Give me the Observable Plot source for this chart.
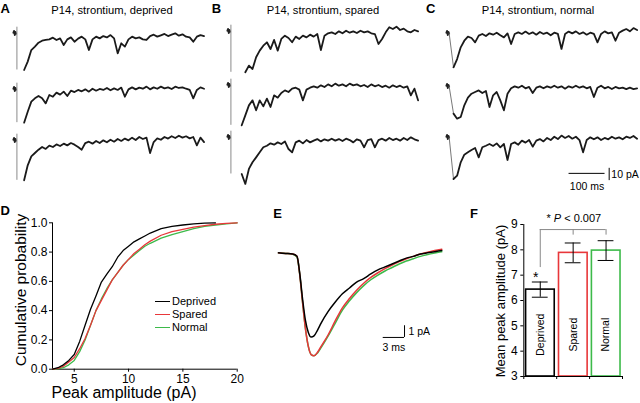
<!DOCTYPE html>
<html><head><meta charset="utf-8">
<script src="https://cdn.jsdelivr.net/npm/d3@7"></script>
<script src="https://cdn.jsdelivr.net/npm/@observablehq/plot@0.6"></script>
<style>
html,body{margin:0;padding:0;background:#fff;}
#fig{position:relative;width:640px;height:403px;overflow:hidden;background:#fff;font-family:"Liberation Sans",Arial,Helvetica,sans-serif;color:#000;}
#fig svg{position:absolute;overflow:visible;}
.legend{position:absolute;font-size:11px;line-height:12.8px;}
.legend div{display:flex;align-items:center;height:12.8px;}
.legend span.sw{display:inline-block;width:15px;height:0;border-top:1.6px solid;margin-right:2px;}
</style></head><body><div id="fig"></div><script>
// ---------------- DATA ----------------
const STEP = 10;                       // ms between trace samples
const preT = [-10, -8, -6, -4, -2];    // ms, pre-stimulus samples
const preBlob = [0.5, 2.0, -1.5, 1.2, -0.3];
const artifactTop = 5;                 // pA

// Panel A (deprived) sweeps, pA, sampled every 10 ms
const A1 = [-29.8,-23.0,-13.6,-10.8,-7.6,-6.0,-5.4,-4.9,-3.5,-5.4,-4.1,-9.5,-4.9,-3.3,-6.8,-4.3,-2.7,-4.9,-13.6,-4.9,-2.7,-4.1,-2.2,-3.3,-1.4,-4.1,-16.3,-8.1,-10.8,-4.9,-2.7,-4.1,-3.3,-4.9,-5.4,-2.2,-1.1,-2.7,-1.6,-0.5,-2.2,-1.1,0,-1.9,-0.8,-2.7,-3.3,-6.8,-2.7,-1.4,-2.2];
const A2 = [-27.1,-18.2,-10.0,-7.3,-5.4,-7.3,-11.4,-4.6,-6.0,-2.7,-4.3,-1.9,-5.4,-1.1,-2.2,-0.5,-1.6,0,-1.9,0.5,-1.1,0.3,-0.5,1.1,-0.8,0.8,-0.5,1.4,-6.0,0,1.6,0,1.4,0.5,2.2,0,1.6,0.5,2.2,0.8,1.6,0.3,2.2,1.1,1.6,0.5,-0.5,-7.3,-0.5,1.6,0.5];
const A3 = [-32.5,-20.3,-13.0,-10.3,-7.6,-5.4,-7.0,-4.3,-5.4,-3.3,-4.6,-2.7,-4.1,-2.2,-3.5,-5.4,-7.6,-2.2,-1.1,-2.7,-0.5,-2.2,0,-1.6,0.5,-1.1,1.1,-0.5,1.4,0,2.2,0.3,2.7,1.1,2.2,-10.3,-1.4,1.6,0.5,2.7,1.4,3.3,1.9,3.8,2.2,3.3,1.6,2.7,-4.1,2.2,-1.4];
const startA = [20, 20, 20];
// Panel B (spared)
const B1 = [-33.3,-27.9,-30.6,-21.1,-15.7,-11.7,-8.9,-14.4,-7.0,-15.7,-6.2,-3.5,-5.4,-8.9,-4.3,-6.2,-3.5,-4.9,-2.7,-4.3,-2.2,-15.2,-3.5,-1.6,-0.8,-2.2,0,-1.6,0.5,-1.1,0,-1.4,0.5,-0.8,0,-1.6,-2.2,-10.3,-6.2,-0.8,3.3,1.9,3.8,1.1,2.2,0,-0.8,1.1,0];
const B2 = [-32.5,-24.4,-16.3,-12.2,-20.3,-12.2,-17.1,-10.8,-17.6,-8.1,-10.0,-6.2,-4.1,-5.4,-2.7,-1.9,-3.5,-12.2,-3.5,-1.9,-0.8,-1.9,0,-1.4,0.8,-0.8,1.4,-0.3,0.8,-0.8,1.4,0,0.8,-0.8,0.3,-1.4,0.8,-0.8,0.3,-1.4,-0.3,-1.9,0,-1.4,-0.3,-1.9,-0.8,-8.1,-2.7,-12.2];
const B3 = [-29.8,-37.9,-25.7,-20.3,-16.3,-12.2,-8.1,-6.8,-4.9,-6.0,-4.1,-5.4,-3.3,-9.5,-12.2,-4.1,-2.7,-4.9,-2.2,-4.1,-2.7,-1.4,-3.3,-1.6,-2.7,-1.1,-2.7,-1.4,-3.0,-1.1,-2.2,-4.1,-1.6,-2.7,-8.1,-2.2,-1.4,-8.1,-2.2,-1.1,-2.7,-0.5,-2.2,-1.1,-2.7,-0.5,-2.2,0,-1.6,-2.7];
const startB = [40, 30, 30];
// Panel C (normal)
const C1 = [-27.6,-20.9,-11.4,-6.0,-2.7,-3.8,-7.3,-1.9,-0.5,-2.2,0,-1.1,0.5,-1.6,-3.3,0,-8.7,-0.5,0.8,-0.5,1.4,-0.5,0.8,-1.1,1.1,-0.5,0.5,-1.6,0.5,-0.5,-12.7,-0.5,1.4,0,1.6,-0.5,0.8,-1.1,0.5,-0.5,-7.3,-0.5,1.6,0,0.8,-6.0,0.5,2.2,3.5,1.6,4.3,2.7];
const C2 = [-22.2,-26.3,-24.9,-15.4,-9.2,-6.0,-4.6,-3.3,-5.4,-3.8,-16.8,-7.3,-4.6,-11.4,-19.5,-6.0,-1.6,0,-1.1,0.5,-1.6,-0.5,-5.4,-1.1,0,-1.6,0,-1.1,0.5,-1.1,0,-1.9,0,-1.1,0.5,-1.1,0,-1.6,-0.5,-8.7,-1.1,0.5,-1.6,-0.5,-2.2,-0.5,-1.6,-1.1,-2.2,-1.1,-2.2,-1.6];
const C3 = [-33.9,-31.2,-20.3,-14.1,-12.2,-10.3,-8.7,-16.3,-8.1,-6.8,-5.4,-7.0,-4.9,-8.1,-5.4,-18.4,-5.4,-4.1,-6.0,-2.7,-4.3,-2.2,-7.6,-2.7,-1.4,-3.3,-0.5,-2.2,0.5,-1.4,1.4,-0.5,1.1,-1.1,0.5,-2.2,-12.2,-2.2,0,-1.6,0,-2.2,-0.5,-1.6,0.5,-1.1,0,-1.6,0.5,-0.5,1.1,-1.1];
const startC = [10, 10, 10];
const scaleBarC = {ms: 100, pA: 10};
const panelTitles = ["P14, strontium, deprived", "P14, strontium, spared", "P14, strontium, normal"];

// Panel D: cumulative distributions
const groups = ["Deprived", "Spared", "Normal"];
const groupColors = ["#000000", "#e8373a", "#3dba4a"];
const cdfAmp = [3.0,3.5,4.0,4.5,5.0,5.5,6.0,6.5,7.0,7.5,8.0,8.5,9.0,9.5,10.0,10.5,11.0,11.5,12.0,13,14,15,16,17,18,19,20];
const cdfDeprived = [0,0.01,0.03,0.06,0.10,0.19,0.30,0.41,0.50,0.595,0.65,0.70,0.765,0.81,0.84,0.87,0.89,0.91,0.93,0.96,0.975,0.985,0.993,0.998,1.0];
const cdfSpared = [0,0.005,0.02,0.05,0.08,0.14,0.21,0.30,0.40,0.47,0.54,0.61,0.66,0.71,0.75,0.79,0.82,0.85,0.875,0.915,0.94,0.955,0.97,0.98,0.99,0.996,1.0];
const cdfNormal = [0,0.003,0.01,0.03,0.06,0.12,0.20,0.30,0.40,0.48,0.55,0.61,0.66,0.71,0.75,0.78,0.81,0.84,0.86,0.895,0.92,0.94,0.96,0.975,0.985,0.993,1.0];
const cdfTicksX = [5, 10, 15, 20];
const cdfTicksY = [0, 0.2, 0.4, 0.6, 0.8, 1.0];
const dTitles = {x: "Peak amplitude (pA)", y: "Cumulative probability"};

// Panel E: average events
const eTime = [0,1,2,2.6,3.0,3.4,3.8,4.2,4.6,5.0,5.5,6,7,8,9,10,11,12,13,14,15,16,17,18,19,20,21,22,23];
const eDeprived = [0,-0.05,-0.1,-0.3,-1.8,-4.0,-5.8,-6.8,-7.2,-7.1,-6.6,-6.0,-5.0,-4.2,-3.5,-3.0,-2.5,-2.2,-1.8,-1.45,-1.2,-0.95,-0.7,-0.45,-0.3,-0.1,0.0,0.1,0.2];
const eSpared = [0,-0.05,-0.1,-0.3,-1.9,-4.3,-6.5,-8.0,-8.7,-8.8,-8.5,-8.0,-7.0,-5.8,-4.7,-3.9,-3.2,-2.6,-2.1,-1.7,-1.35,-1.05,-0.75,-0.5,-0.3,-0.1,0.05,0.2,0.3];
const eNormal = [0,-0.05,-0.12,-0.35,-1.9,-4.3,-6.5,-8.0,-8.7,-8.8,-8.55,-8.1,-7.1,-6.0,-4.9,-4.1,-3.4,-2.8,-2.3,-1.9,-1.55,-1.25,-0.95,-0.7,-0.5,-0.3,-0.15,-0.02,0.1];
const scaleBarE = {ms: 3, pA: 1};

// Panel F: mean peak amplitude
const fMeans = [6.43, 7.88, 7.97];
const fSem = [0.30, 0.39, 0.39];
const fTicksY = [3, 4, 5, 6, 7, 8, 9];
const fTitle = "Mean peak amplitude (pA)";
const sigLabel = "* P < 0.007";

// ---------------- DRAW ----------------
const FONT = '"Liberation Sans", Arial, Helvetica, sans-serif';
const fig = document.getElementById("fig");
const baseStyle = {background: "transparent", overflow: "visible", fontFamily: FONT, color: "#000"};
function put(el, left, top) { el.style.left = left + "px"; el.style.top = top + "px"; fig.appendChild(el); return el; }

// --- sweeps (A, B, C) ---
const PXMS = 0.36, PXPA = 1.23;
const T_DOM = [-15, 525], V_DOM = [-42, 8];
const SW = (T_DOM[1] - T_DOM[0]) * PXMS, SH = (V_DOM[1] - V_DOM[0]) * PXPA;

function sweep(values, t0, artifact, extra = []) {
  const pts = values.map((v, i) => ({t: t0 + i * STEP, v}));
  const pre = preT.map((t, i) => ({t, v: preBlob[i]}));
  const marks = [
    Plot.line(pre, {x: "t", y: "v", stroke: "#222", strokeWidth: 1.8}),
    artifact
      ? Plot.ruleX([0], {y1: artifactTop, y2: values[0], stroke: "#8a8a8a", strokeWidth: 1})
      : Plot.line([pre[pre.length - 1], pts[0]], {x: "t", y: "v", stroke: "#777", strokeWidth: 1}),
    Plot.line(pts, {x: "t", y: "v", stroke: "#1a1a1a", strokeWidth: 1.8}),
    ...extra
  ];
  return Plot.plot({width: SW, height: SH, margin: 0, style: baseStyle,
    x: {domain: T_DOM, axis: null}, y: {domain: V_DOM, axis: null}, marks});
}
const panels = [
  {stimX: 16.7, base: [33.3, 89.3, 140], traces: [A1, A2, A3], starts: startA, artifact: true},
  {stimX: 230.7, base: [30.7, 85, 136.7], traces: [B1, B2, B3], starts: startB, artifact: true},
  {stimX: 449.7, base: [32.7, 86, 136.7], traces: [C1, C2, C3], starts: startC, artifact: false}
];
panels.forEach((p, pi) => {
  p.traces.forEach((vals, si) => {
    let extra = [];
    if (pi === 2 && si === 2) {
      const t1 = 331, v1 = -29.3;        // scale bar anchor
      const tv = t1 + scaleBarC.ms + 11.5, vTop = -25.2;
      extra = [
        Plot.ruleY([v1], {x1: t1, x2: t1 + scaleBarC.ms, stroke: "#000", strokeWidth: 1}),
        Plot.ruleX([tv], {y1: vTop, y2: vTop - scaleBarC.pA, stroke: "#000", strokeWidth: 1}),
        Plot.text([`${scaleBarC.ms} ms`], {text: d => d, x: t1 + scaleBarC.ms / 2, y: -40.2, fontSize: 10.5, lineAnchor: "middle"}),
        Plot.text([`${scaleBarC.pA} pA`], {text: d => d, x: tv + 6, y: -30.6, fontSize: 10.5, textAnchor: "start", lineAnchor: "middle"})
      ];
    }
    const svg = sweep(vals, p.starts[si], p.artifact, extra);
    put(svg, p.stimX - (0 - T_DOM[0]) * PXMS, p.base[si] - V_DOM[1] * PXPA);
  });
});

// --- D: cumulative probability ---
const cdfRows = [];
[[cdfNormal, 2], [cdfSpared, 1], [cdfDeprived, 0]].forEach(([arr, gi]) =>
  arr.forEach((p, i) => cdfRows.push({amp: cdfAmp[i], p, group: groups[gi]})));
const dPlot = Plot.plot({
  width: 250, height: 203, marginLeft: 52, marginTop: 22.3, marginRight: 13.3, marginBottom: 34.3,
  style: {...baseStyle, fontSize: "12px"},
  x: {domain: [3, 20]}, y: {domain: [0, 1]},
  color: {domain: groups, range: groupColors},
  marks: [
    Plot.axisX({ticks: cdfTicksX, tickFormat: d => String(d), tickSize: 3, tickPadding: 2, label: null, fontSize: 12}),
    Plot.axisY({ticks: cdfTicksY, tickFormat: d3.format(".1f"), tickSize: 3, tickPadding: 2, label: null, fontSize: 12}),
    Plot.ruleY([0], {stroke: "#000"}),
    Plot.ruleX([3], {stroke: "#000"}),
    Plot.line(cdfRows, {x: "amp", y: "p", z: "group", stroke: "group", strokeWidth: 1.3})
  ]
});
put(dPlot, 0, 200);
// legend D
const leg = document.createElement("div");
leg.className = "legend";
groups.forEach((g, i) => {
  const row = document.createElement("div");
  const sw = document.createElement("span"); sw.className = "sw"; sw.style.borderTopColor = groupColors[i];
  row.appendChild(sw); row.appendChild(document.createTextNode(g)); leg.appendChild(row);
});
put(leg, 155, 295.3);

// --- E: average traces ---
const eRows = [];
[[eNormal, 2], [eSpared, 1], [eDeprived, 0]].forEach(([arr, gi]) =>
  arr.forEach((v, i) => eRows.push({t: eTime[i], v, group: groups[gi]})));
const E_T = [0, 23], E_V = [-9.5, 0.8];
const eCorner = {t: 17.75, v: -7.23};
const ePlot = Plot.plot({
  width: (E_T[1] - E_T[0]) * 7.1, height: (E_V[1] - E_V[0]) * 11.7, margin: 0, style: baseStyle,
  x: {domain: E_T, axis: null}, y: {domain: E_V, axis: null},
  color: {domain: groups, range: groupColors},
  marks: [
    Plot.line(eRows, {x: "t", y: "v", z: "group", stroke: "group", strokeWidth: 1.5, curve: "monotone-x"}),
    Plot.ruleY([eCorner.v], {x1: eCorner.t - scaleBarE.ms, x2: eCorner.t, stroke: "#000", strokeWidth: 1}),
    Plot.ruleX([eCorner.t], {y1: eCorner.v, y2: eCorner.v + scaleBarE.pA, stroke: "#000", strokeWidth: 1}),
    Plot.text([`${scaleBarE.pA} pA`], {text: d => d, x: eCorner.t + 0.55, y: eCorner.v + 0.5, textAnchor: "start", lineAnchor: "middle", fontSize: 10.5}),
    Plot.text([`${scaleBarE.ms} ms`], {text: d => d, x: eCorner.t - scaleBarE.ms - 0.1, y: eCorner.v - 0.85, textAnchor: "start", lineAnchor: "middle", fontSize: 10.5})
  ]
});
put(ePlot, 278, 252.7 - E_V[1] * 11.7);

// --- F: bar chart ---
const fData = groups.map((g, i) => ({i, group: g, mean: fMeans[i], sem: fSem[i]}));
const fPlot = Plot.plot({
  width: 197, height: 203, marginLeft: 83.3, marginTop: 24, marginRight: 15, marginBottom: 27,
  style: {...baseStyle, fontSize: "12px"},
  x: {domain: [0, 3]}, y: {domain: [3, 9]},
  color: {domain: groups, range: groupColors},
  marks: [
    Plot.rect(fData, {x1: d => d.i + 0.07, x2: d => d.i + 0.94, y1: 3, y2: "mean", fill: "#fff", stroke: "group", strokeWidth: 1.6}),
    Plot.ruleX(fData, {x: d => d.i + 0.5, y1: d => d.mean - d.sem, y2: d => d.mean + d.sem, stroke: "#000"}),
    Plot.ruleY(fData, {y: d => d.mean + d.sem, x1: d => d.i + 0.26, x2: d => d.i + 0.74, stroke: "#000"}),
    Plot.ruleY(fData, {y: d => d.mean - d.sem, x1: d => d.i + 0.26, x2: d => d.i + 0.74, stroke: "#000"}),
    Plot.text(fData, {text: "group", x: d => d.i + 0.5, y: 4.65, rotate: -90, fontSize: 10.5, lineAnchor: "middle"}),
    Plot.axisY({ticks: fTicksY, tickFormat: d => String(d), tickSize: 3, tickPadding: 3, label: null, fontSize: 12}),
    Plot.axisX({ticks: [0, 1, 2, 3], tickFormat: () => "", tickSize: 3, label: null}),
    Plot.ruleY([3], {stroke: "#000"}),
    Plot.ruleX([0], {y1: 3, y2: 9, stroke: "#000"}),
    // significance bracket
    Plot.ruleY([8.8], {x1: 0.5, x2: 2.5, stroke: "#888"}),
    Plot.ruleX([0.5], {y1: 8.8, y2: 7.3, stroke: "#888"}),
    Plot.ruleX([1.5, 2.5], {y1: 8.8, y2: 8.58, stroke: "#888"}),
    Plot.text(["*"], {text: d => d, x: 0.36, y: 6.9, fontSize: 14, lineAnchor: "middle"}),
    Plot.text([sigLabel], {text: d => d, x: 1.52, y: 9.25, fontSize: 11, lineAnchor: "middle"})
  ]
});
fPlot.querySelectorAll("text").forEach(t => {
  if (t.textContent === sigLabel) t.innerHTML = '* <tspan font-style="italic">P</tspan> &lt; 0.007';
});
put(fPlot, 440, 200);

// --- panel letters, titles and axis titles ---
const ov = d3.create("svg").attr("width", 640).attr("height", 403)
  .style("left", "0px").style("top", "0px").style("font-family", FONT).style("pointer-events", "none");
const letters = [["A", 0.5, 12.7], ["B", 211.7, 12.7], ["C", 426, 12.7], ["D", 0.5, 215], ["E", 273.3, 218.3], ["F", 470, 218.3]];
ov.selectAll("text.l").data(letters).join("text").attr("class", "l")
  .attr("x", d => d[1]).attr("y", d => d[2]).attr("font-size", 13).attr("font-weight", "bold").text(d => d[0]);
const titleX = [112, 323, 538];
ov.selectAll("text.t").data(panelTitles).join("text").attr("class", "t")
  .attr("x", (d, i) => titleX[i]).attr("y", 14).attr("font-size", 11.2).attr("text-anchor", "middle").text(d => d);
const axisTitles = [
  {text: dTitles.y, x: 20, y: 290, rot: -90, size: 15.5},
  {text: dTitles.x, x: 124, y: 392.5, rot: 0, size: 16},
  {text: fTitle, x: 500, y: 301, rot: -90, size: 13}
];
ov.selectAll("text.a").data(axisTitles).join("text").attr("class", "a")
  .attr("transform", d => `translate(${d.x},${d.y}) rotate(${d.rot})`)
  .attr("text-anchor", "middle").attr("dominant-baseline", "central")
  .attr("font-size", d => d.size).text(d => d.text);
fig.appendChild(ov.node());
</script></body></html>
